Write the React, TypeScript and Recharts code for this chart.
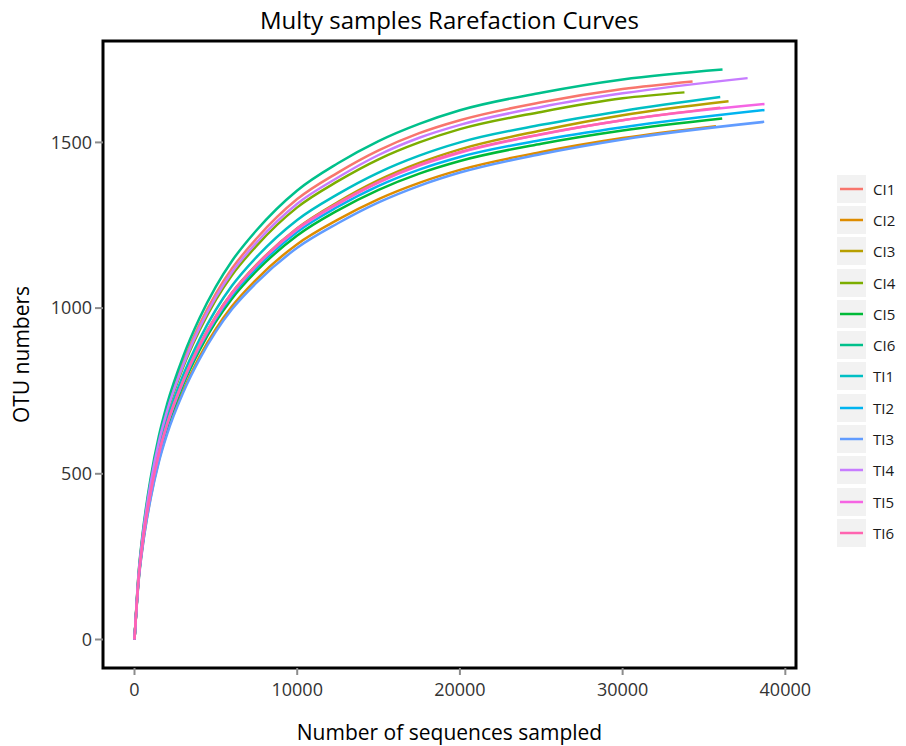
import { LineChart, Line, XAxis, YAxis, Legend, ReferenceArea } from 'recharts';

const SEQ = [0, 250, 500, 1000, 1500, 2000, 3000, 4000, 5000, 6000, 7500, 10000, 12500, 15000, 17500, 20000, 25000, 30000];
const SAMPLES = ['CI1', 'CI2', 'CI3', 'CI4', 'CI5', 'CI6', 'TI1', 'TI2', 'TI3', 'TI4', 'TI5', 'TI6'];
const COLORS = ['#F8766D', '#DE8C00', '#B79F00', '#7CAE00', '#00BA38', '#00C08B', '#00BFC4', '#00B4F0', '#619CFF', '#C77CFF', '#F564E3', '#FF64B0'];
const END_SEQ = [34300, 35740, 36510, 33800, 36120, 36140, 36000, 38720, 38700, 37680, 38720, 36000];

const CI1 = [0, 196, 314, 480, 603, 696, 838, 951, 1044, 1120, 1210, 1329, 1409, 1476, 1528, 1567, 1621, 1661, 1684];
const CI2 = [0, 176, 282, 431, 541, 625, 752, 854, 937, 1006, 1087, 1193, 1267, 1329, 1378, 1417, 1471, 1513, 1549];
const CI3 = [0, 183, 293, 449, 563, 650, 783, 889, 976, 1047, 1131, 1241, 1320, 1386, 1438, 1479, 1536, 1582, 1624];
const CI4 = [0, 192, 308, 471, 592, 683, 823, 933, 1025, 1100, 1188, 1304, 1383, 1449, 1500, 1540, 1592, 1633, 1651];
const CI5 = [0, 180, 288, 441, 554, 639, 770, 873, 959, 1029, 1112, 1219, 1295, 1357, 1406, 1444, 1496, 1536, 1572];
const CI6 = [0, 200, 320, 490, 615, 710, 855, 970, 1065, 1143, 1235, 1355, 1437, 1504, 1556, 1597, 1650, 1690, 1720];
const TI1 = [0, 187, 299, 458, 574, 663, 799, 906, 995, 1068, 1154, 1266, 1344, 1409, 1460, 1500, 1553, 1595, 1637];
const TI2 = [0, 182, 291, 445, 558, 645, 776, 881, 967, 1038, 1121, 1230, 1306, 1369, 1418, 1456, 1507, 1546, 1598];
const TI3 = [0, 174, 279, 427, 536, 619, 746, 846, 929, 997, 1077, 1182, 1256, 1319, 1369, 1409, 1465, 1509, 1562];
const TI4 = [0, 194, 310, 475, 597, 689, 829, 941, 1033, 1109, 1198, 1315, 1394, 1462, 1514, 1553, 1607, 1648, 1694];
const TI5 = [0, 183, 292, 447, 561, 648, 781, 886, 972, 1044, 1128, 1237, 1314, 1379, 1430, 1469, 1524, 1567, 1616];
const TI6 = [0, 183, 293, 448, 563, 650, 782, 888, 974, 1046, 1130, 1240, 1317, 1381, 1432, 1471, 1525, 1567, 1605];

const VALUES = [CI1, CI2, CI3, CI4, CI5, CI6, TI1, TI2, TI3, TI4, TI5, TI6];

const X_TICKS = [0, 10000, 20000, 30000, 40000];
const Y_TICKS = [0, 500, 1000, 1500];
const X_DOMAIN = [-1936, 40656];
const Y_DOMAIN = [-86, 1806];

const FONT = '"Open Sans", "Noto Sans", sans-serif';

const series = SAMPLES.map((name, i) => ({
  name,
  color: COLORS[i],
  points: [...SEQ, END_SEQ[i]].map((x, j) => ({ x, y: VALUES[i][j] })),
}));

function renderLegend(props: any) {
  const { payload } = props;
  return (
    <div style={{ fontFamily: FONT }}>
      {payload.map((entry: any) => (
        <div key={entry.value} style={{ display: 'flex', alignItems: 'center', height: 31.3 }}>
          <svg width={29} height={28} style={{ display: 'block' }}>
            <rect x={0} y={0} width={29} height={28} fill="#F2F2F2" />
            <line x1={3} x2={26} y1={14} y2={14} stroke={entry.color} strokeWidth={2.5} />
          </svg>
          <span style={{ marginLeft: 7, fontSize: 15, color: '#1a1a1a' }}>{entry.value}</span>
        </div>
      ))}
    </div>
  );
}

export default function App() {
  return (
    <div style={{ position: 'absolute', left: 0, top: 0, width: 906, height: 746, background: '#fff' }}>
      <div
        style={{
          position: 'absolute', left: 103, width: 693, top: 3, textAlign: 'center',
          fontFamily: FONT, fontSize: 24, color: '#000', lineHeight: '34px',
        }}
      >
        Multy samples Rarefaction Curves
      </div>
      <LineChart width={906} height={746} margin={{ top: 41, right: 41, bottom: 0, left: 0 }}>
        <XAxis
          dataKey="x"
          type="number"
          domain={X_DOMAIN}
          ticks={X_TICKS}
          allowDataOverflow
          height={78}
          axisLine={false}
          tickLine={{ stroke: '#8c8c8c', strokeWidth: 2 }}
          tickSize={7}
          tickMargin={8}
          tick={{ fontSize: 18, fill: '#333', fontFamily: FONT }}
          label={{ value: 'Number of sequences sampled', position: 'insideBottom', offset: 6, fontSize: 21, fill: '#000', fontFamily: FONT }}
        />
        <YAxis
          dataKey="y"
          type="number"
          domain={Y_DOMAIN}
          ticks={Y_TICKS}
          allowDataOverflow
          width={103}
          axisLine={false}
          tickLine={{ stroke: '#8c8c8c', strokeWidth: 2 }}
          tickSize={8}
          tickMargin={3}
          tick={{ fontSize: 18, fill: '#333', fontFamily: FONT }}
          label={{ value: 'OTU numbers', angle: -90, position: 'insideLeft', offset: 22, fontSize: 21, fill: '#000', fontFamily: FONT, style: { textAnchor: 'middle' } }}
        />
        {series.map((s) => (
          <Line
            key={s.name}
            data={s.points}
            dataKey="y"
            name={s.name}
            type="monotone"
            stroke={s.color}
            strokeWidth={2.5}
            dot={false}
            activeDot={false}
            isAnimationActive={false}
          />
        ))}
        <ReferenceArea
          x1={X_DOMAIN[0]}
          x2={X_DOMAIN[1]}
          y1={Y_DOMAIN[0]}
          y2={Y_DOMAIN[1]}
          fill="none"
          stroke="#000"
          strokeWidth={3}
          ifOverflow="visible"
        />
        <Legend
          layout="vertical"
          align="right"
          verticalAlign="top"
          content={renderLegend}
          wrapperStyle={{ left: 837, top: 173, width: 69 }}
        />
      </LineChart>
    </div>
  );
}
